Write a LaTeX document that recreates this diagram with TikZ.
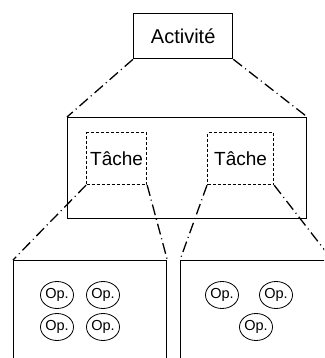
\documentclass[tikz,border=0pt]{standalone}
\usepackage{fontspec}
\setmainfont{Liberation Sans}
\usetikzlibrary{shapes.geometric}
\begin{document}
\begin{tikzpicture}[x=1pt,y=-1pt,
  box/.style={draw, line width=1.3pt, anchor=north west, inner sep=0pt},
  taskbox/.style={draw, line width=1.2pt, dash pattern=on 3pt off 2pt,
    anchor=north west, inner sep=0pt, font=\fontsize{19}{22}\selectfont},
  op/.style={draw, ellipse, line width=0.8pt, minimum width=33pt,
    minimum height=27pt, inner sep=0pt, font=\fontsize{14.5}{16}\selectfont},
  zoomline/.style={line width=1.3pt, dash pattern=on 11pt off 4pt on 1pt off 4pt}]
  \useasboundingbox (0,0) rectangle (324,358);
  \clip (0,0) rectangle (324,358);

  % activity
  \node[box, minimum width=99pt, minimum height=45pt,
        font=\fontsize{20}{23}\selectfont] (act) at (133,13) {Activité};

  % tasks of the activity
  \node[box, minimum width=239pt, minimum height=101pt] (big) at (67,117) {};
  \node[taskbox, minimum width=60pt, minimum height=52pt] (t1) at (86,132) {Tâche};
  \node[taskbox, minimum width=66pt, minimum height=52pt] (t2) at (207,132) {Tâche};

  % operations of each task
  \node[box, minimum width=153pt, minimum height=120pt] (bl) at (13,260) {};
  \node[box, minimum width=151pt, minimum height=120pt] (br) at (180,260) {};

  \node[op] (o1) at (57,295) {Op.};
  \node[op] (o2) at (103,295) {Op.};
  \node[op] (o3) at (57,327) {Op.};
  \node[op] (o4) at (103,327) {Op.};
  \node[op] (o5) at (222,295) {Op.};
  \node[op] (o6) at (276,295) {Op.};
  \node[op] (o7) at (256,327) {Op.};

  % zoom lines
  \draw[zoomline] (act.south west) -- (big.north west);
  \draw[zoomline] (act.south east) -- (big.north east);
  \draw[zoomline] (t1.south west) -- (bl.north west);
  \draw[zoomline] (t1.south east) -- (bl.north east);
  \draw[zoomline] (t2.south west) -- (br.north west);
  \draw[zoomline] (t2.south east) -- (br.north east);
\end{tikzpicture}
\end{document}
